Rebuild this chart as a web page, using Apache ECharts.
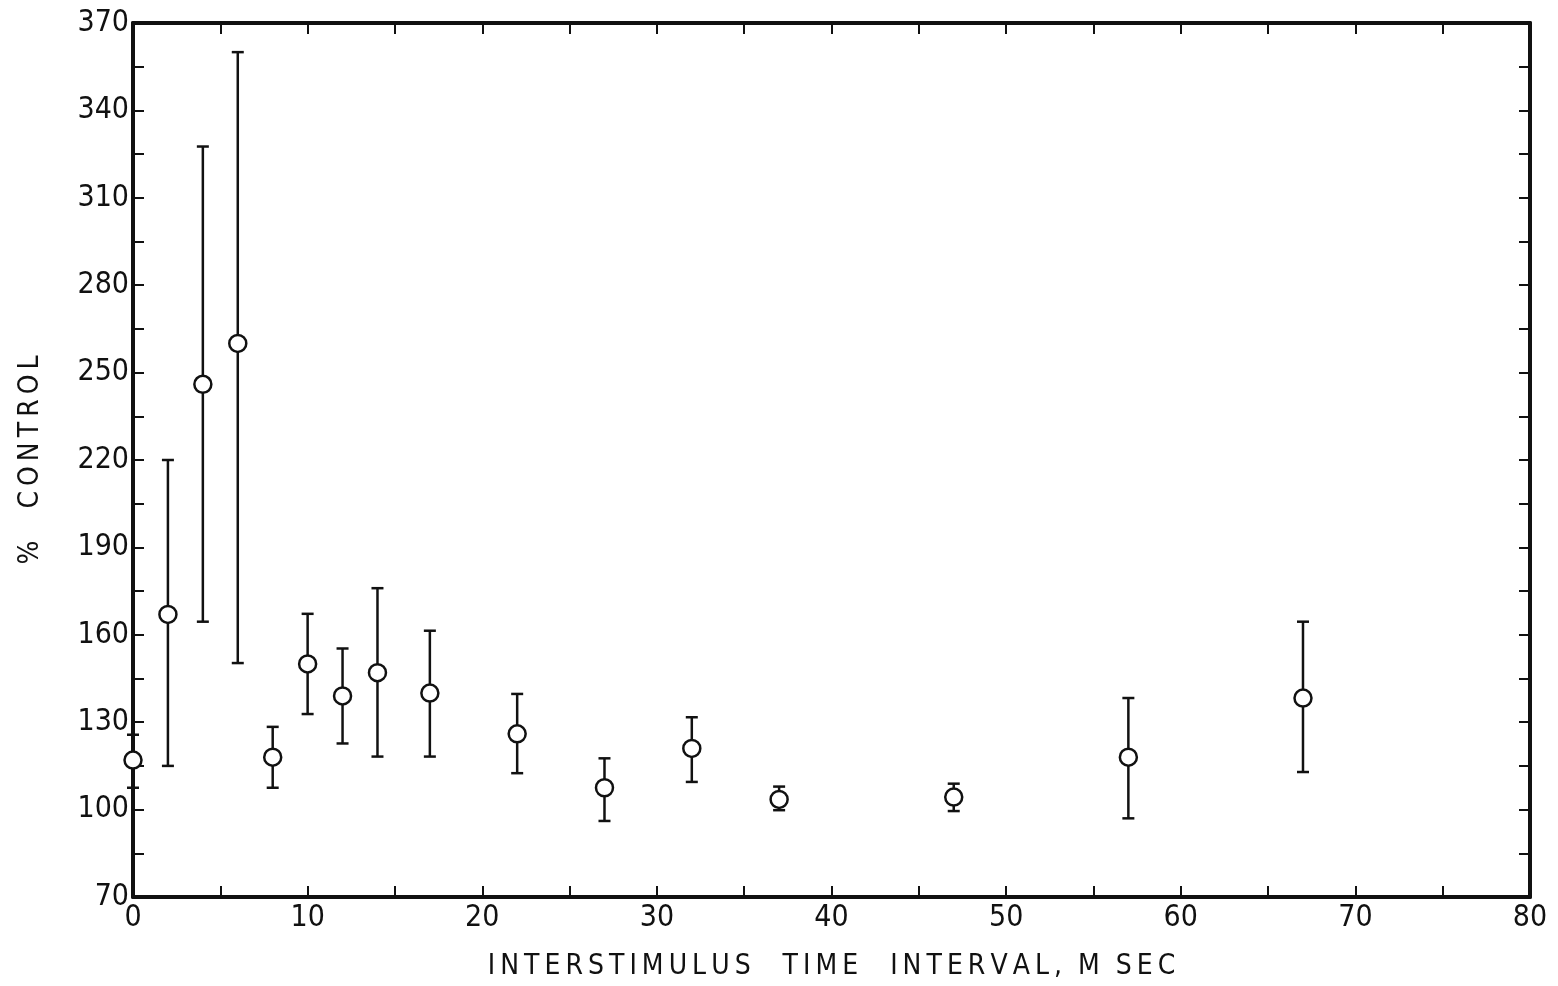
<!DOCTYPE html>
<html>
<head>
<meta charset="utf-8">
<script src="https://cdn.jsdelivr.net/npm/echarts@6/dist/echarts.min.js"></script>
<style>
  html, body { margin: 0; padding: 0; background: #fff; }
  #chart { width: 1558px; height: 986px; }
</style>
</head>
<body>
<div id="chart"></div>
<script>
// interstimulus interval (msec) and % of control, with error bar ends
const intervals = [0, 2, 4, 6, 8, 10, 12, 14, 17, 22, 27, 32, 37, 47, 57, 67];
const means     = [117, 167, 246, 260, 118, 150, 139, 147, 140, 126, 107.5, 121, 103.5, 104.3, 118, 138.3];
const upper     = [125.7, 220, 327.6, 360, 128.4, 167.2, 155.3, 176, 161.4, 139.7, 117.6, 131.7, 107.9, 108.9, 138.3, 164.5];
const lower     = [107.5, 115, 164.5, 150.3, 107.5, 132.8, 122.7, 118.2, 118.2, 112.5, 96.1, 109.5, 99.8, 99.5, 97, 112.9];

const FONT = "'Liberation Sans Narrow', 'DejaVu Sans Condensed', 'DejaVu Sans', sans-serif";
const INK = '#111';

// spread letters out like the typed lettering of the original
function spaced(s) {
    return s.split('').join('\u2009');
}

const elem = document.getElementById('chart');
const myChart = echarts.init(elem, null, {});

const bars = intervals.map((x, i) => [x, lower[i], upper[i]]);
const points = intervals.map((x, i) => [x, means[i]]);

function renderBar(params, api) {
    const x = api.value(0);
    const lo = api.coord([x, api.value(1)]);
    const hi = api.coord([x, api.value(2)]);
    const cap = 6;
    const style = { stroke: INK, lineWidth: 2.5 };
    return {
        type: 'group',
        children: [
            { type: 'line', shape: { x1: hi[0], y1: hi[1], x2: lo[0], y2: lo[1] }, style: style },
            { type: 'line', shape: { x1: hi[0] - cap, y1: hi[1], x2: hi[0] + cap, y2: hi[1] }, style: style },
            { type: 'line', shape: { x1: lo[0] - cap, y1: lo[1], x2: lo[0] + cap, y2: lo[1] }, style: style }
        ]
    };
}

const baseX = {
    type: 'value', min: 0, max: 80, interval: 5,
    splitLine: { show: false },
    axisLine: { show: true, onZero: false, lineStyle: { color: INK, width: 4 } },
    axisTick: { show: true, inside: true, length: 11, lineStyle: { color: INK, width: 2 } }
};
const baseY = {
    type: 'value', min: 70, max: 370, interval: 15,
    splitLine: { show: false },
    axisLine: { show: true, onZero: false, lineStyle: { color: INK, width: 4 } },
    axisTick: { show: true, inside: true, length: 11, lineStyle: { color: INK, width: 2 } }
};

myChart.setOption({
    backgroundColor: '#fff',
    animation: false,
    grid: { left: 133, right: 28, top: 23, bottom: 86 },
    xAxis: [
        Object.assign({}, baseX, {
            position: 'bottom',
            name: spaced('INTERSTIMULUS') + '    ' + spaced('TIME') + '    ' +
                  spaced('INTERVAL,') + '  ' + spaced('M') + '  ' + spaced('SEC'),
            nameLocation: 'middle', nameGap: 56,
            nameTextStyle: { fontFamily: FONT, fontSize: 28, color: INK },
            axisLabel: {
                fontFamily: FONT, fontSize: 30, color: INK, margin: 6,
                formatter: v => (v % 10 === 0 ? String(v) : '')
            }
        }),
        Object.assign({}, baseX, { position: 'top', axisLabel: { show: false } })
    ],
    yAxis: [
        Object.assign({}, baseY, {
            position: 'left',
            name: spaced('%') + '    ' + spaced('CONTROL'),
            nameLocation: 'middle', nameGap: 88,
            nameTextStyle: { fontFamily: FONT, fontSize: 28, color: INK },
            axisLabel: {
                fontFamily: FONT, fontSize: 30, color: INK, margin: 4,
                formatter: v => ((v - 70) % 30 === 0 ? String(v) : '')
            }
        }),
        Object.assign({}, baseY, { position: 'right', axisLabel: { show: false } })
    ],
    series: [
        {
            type: 'custom',
            renderItem: renderBar,
            encode: { x: 0, y: [1, 2] },
            data: bars,
            z: 2
        },
        {
            type: 'scatter',
            data: points,
            symbol: 'circle',
            symbolSize: 17,
            itemStyle: { color: '#fff', opacity: 1, borderColor: INK, borderWidth: 2.5 },
            z: 3
        }
    ]
});

window.addEventListener('resize', function () {
    myChart.resize();
});
</script>
</body>
</html>
